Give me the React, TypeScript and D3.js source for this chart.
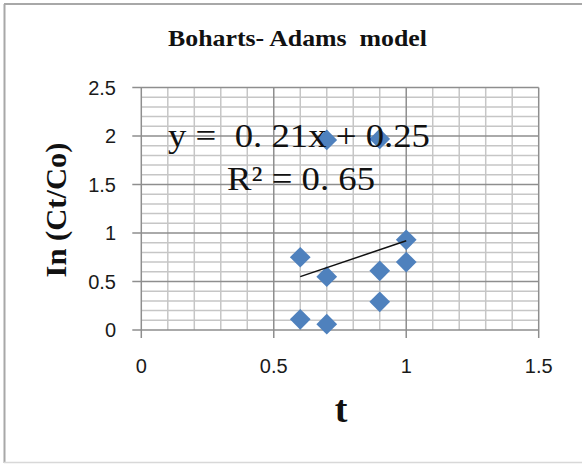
import React from "react";
import * as d3 from "d3";

const xValues = [0.6, 0.6, 0.7, 0.7, 0.7, 0.9, 0.9, 0.9, 1.0, 1.0];
const yValues = [0.75, 0.11, 0.55, 0.06, 1.96, 0.61, 0.29, 1.97, 0.93, 0.7];
const trendX = [0.6, 1.0];
const trendY = [0.55, 0.92];
const xTicks = [0, 0.5, 1, 1.5];
const yTicks = [0, 0.5, 1, 1.5, 2, 2.5];
const xTickLabels = ["0", "0.5", "1", "1.5"];
const yTickLabels = ["0", "0.5", "1", "1.5", "2", "2.5"];
const titleText = "Boharts- Adams  model";
const eqText = "y =  0. 21x + 0.25";
const r2Text = "R\u00b2 = 0. 65";
const xLabel = "t";
const yLabel = "In (Ct/Co)";

export default function App() {
  const x = d3.scaleLinear().domain([0, 1.5]).range([141.3, 538.7]);
  const y = d3.scaleLinear().domain([0, 2.5]).range([330, 87.5]);
  const minorX = d3.range(0, 1.5001, 0.1).map((v) => +v.toFixed(2));
  const minorY = d3.range(0, 2.5001, 0.1).map((v) => +v.toFixed(2));
  const isMajor = (v: number) => Math.abs(v / 0.5 - Math.round(v / 0.5)) < 1e-6;
  const diamond = d3.symbol().type(d3.symbolSquare).size(215)();
  const line = d3
    .line<number>()
    .x((_, i) => x(trendX[i]))
    .y((d) => y(d));
  const [x0, x1] = x.range();
  const [y0, y1] = y.range();
  return (
    <svg
      width={582}
      height={464}
      style={{ position: "absolute", left: 0, top: 0, background: "#fff" }}
    >
      <rect x={0} y={0} width={582} height={464} fill="#fff" />
      {/* outer border */}
      <line x1={4.5} y1={4} x2={4.5} y2={463} stroke="#a8a8a8" strokeWidth={2} />
      <line x1={4} y1={4} x2={582} y2={4} stroke="#a8a8a8" strokeWidth={2} />
      <line x1={4} y1={462.5} x2={582} y2={462.5} stroke="#d8d8d8" strokeWidth={1.5} />

      {/* title */}
      <text
        x={297.5}
        y={46}
        textAnchor="middle"
        fontFamily="'Liberation Serif', 'Times New Roman', serif"
        fontWeight="bold"
        fontSize={24}
        textLength={259}
        lengthAdjust="spacingAndGlyphs"
        style={{ whiteSpace: "pre" }}
        fill="#111"
      >
        {titleText}
      </text>

      {/* minor grid */}
      {minorY.filter((v) => !isMajor(v)).map((v) => (
        <line key={"my" + v} x1={x0} x2={x1} y1={y(v)} y2={y(v)} stroke="#c6c6c6" strokeWidth={1.5} />
      ))}
      {minorX.filter((v) => !isMajor(v)).map((v) => (
        <line key={"mx" + v} x1={x(v)} x2={x(v)} y1={y0} y2={y1} stroke="#c6c6c6" strokeWidth={1.5} />
      ))}
      {/* major grid */}
      {yTicks.map((v) => (
        <line key={"Y" + v} x1={x0 - 9} x2={x1} y1={y(v)} y2={y(v)} stroke="#8e8e8e" strokeWidth={1.5} />
      ))}
      {xTicks.map((v) => (
        <line key={"X" + v} x1={x(v)} x2={x(v)} y1={y0 + 8} y2={y1} stroke="#8e8e8e" strokeWidth={1.5} />
      ))}

      {/* tick labels */}
      {yTicks.map((v, i) => (
        <text
          key={"yl" + v}
          x={116}
          y={y(v)}
          dy="0.36em"
          textAnchor="end"
          fontFamily="'Liberation Sans', Arial, sans-serif"
          fontSize={20}
          fill="#1a1a1a"
        >
          {yTickLabels[i]}
        </text>
      ))}
      {xTicks.map((v, i) => (
        <text
          key={"xl" + v}
          x={x(v)}
          y={373}
          textAnchor="middle"
          fontFamily="'Liberation Sans', Arial, sans-serif"
          fontSize={20}
          fill="#1a1a1a"
        >
          {xTickLabels[i]}
        </text>
      ))}

      {/* markers */}
      {xValues.map((xv, i) => (
        <path
          key={"p" + i}
          d={diamond || ""}
          transform={`translate(${x(xv)},${y(yValues[i])}) rotate(45)`}
          fill="#4f81bd"
        />
      ))}

      {/* trendline */}
      <path d={line(trendY) || ""} fill="none" stroke="#111" strokeWidth={1.5} />

      {/* equation */}
      <text
        x={168}
        y={147}
        fontFamily="'Liberation Serif', 'Times New Roman', serif"
        fontSize={34}
        textLength={262}
        lengthAdjust="spacingAndGlyphs"
        style={{ whiteSpace: "pre" }}
        fill="#111"
      >
        {eqText}
      </text>
      <text
        x={227}
        y={190}
        fontFamily="'Liberation Serif', 'Times New Roman', serif"
        fontSize={34}
        textLength={148}
        lengthAdjust="spacingAndGlyphs"
        style={{ whiteSpace: "pre" }}
        fill="#111"
      >
        {r2Text}
      </text>

      {/* axis titles */}
      <text
        x={341}
        y={422}
        textAnchor="middle"
        fontFamily="'Liberation Serif', 'Times New Roman', serif"
        fontWeight="bold"
        fontSize={38}
        fill="#111"
      >
        {xLabel}
      </text>
      <text
        transform="translate(66,210) rotate(-90)"
        textAnchor="middle"
        fontFamily="'Liberation Serif', 'Times New Roman', serif"
        fontWeight="bold"
        fontSize={30}
        textLength={135}
        lengthAdjust="spacingAndGlyphs"
        fill="#111"
      >
        {yLabel}
      </text>
    </svg>
  );
}
